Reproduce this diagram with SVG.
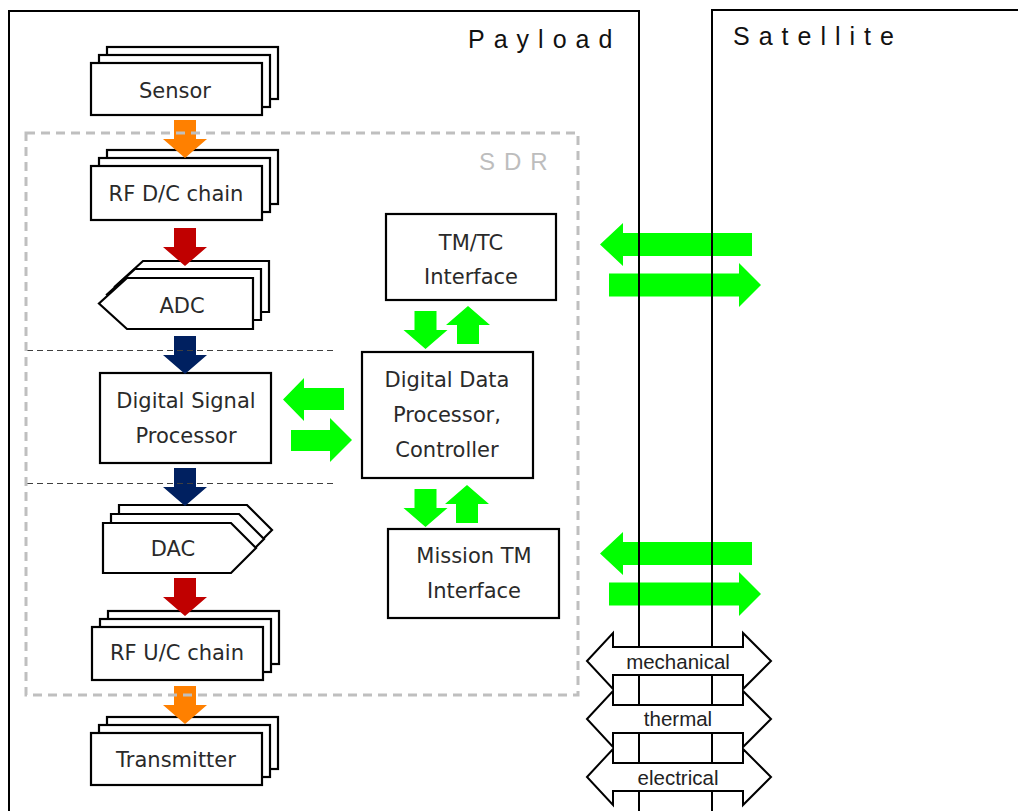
<svg xmlns="http://www.w3.org/2000/svg" width="1018" height="811" viewBox="0 0 1018 811">
  <defs>
    <style>
      .box { fill: #fff; stroke: #000; stroke-width: 2.2; }
      .lbl { font-family: "DejaVu Sans", "Liberation Sans", sans-serif; font-size: 21px; fill: #2a2a2a; text-anchor: middle; }
      .frame { fill: none; stroke: #000; stroke-width: 2; }
      .title { font-family: "Liberation Sans", Arial, sans-serif; font-size: 25px; fill: #111; letter-spacing: 9px; }
      .sdr { fill: none; stroke: #bfbfbf; stroke-width: 3; stroke-dasharray: 9 6; }
      .sdrlbl { font-family: "Liberation Sans", Arial, sans-serif; font-size: 24px; fill: #bdbdbd; letter-spacing: 9px; }
      .sep { stroke: #404040; stroke-width: 1.2; stroke-dasharray: 6 4; fill: none; }
      .g { fill: #00ff00; }
      .iface { fill: #fff; stroke: #000; stroke-width: 2; }
      .ilbl { font-family: "Liberation Sans", Arial, sans-serif; font-size: 20.5px; fill: #222; text-anchor: middle; }
    </style>
    <!-- block arrow pointing down, origin at top centre of shaft -->
    <path id="down" d="M-11,0 H11 V19 H22 L0,38 L-22,19 H-11 Z"/>
  </defs>

  <!-- outer frames -->
  <g id="payload">
    <rect class="frame" x="9" y="11" width="630" height="830"/>
    <text class="title" x="468" y="48">Payload</text>
  </g>
  <g id="satellite">
    <rect class="frame" x="712" y="10" width="400" height="900"/>
    <text class="title" x="733" y="45">Satellite</text>
  </g>

  <!-- signal chain nodes -->
  <g id="sensor">
    <rect class="box" x="107" y="47" width="171" height="52"/>
    <rect class="box" x="99" y="55" width="171" height="52"/>
    <rect class="box" x="91" y="63" width="171" height="52"/>
    <text class="lbl" x="175" y="98">Sensor</text>
  </g>
  <g id="rf-dc">
    <rect class="box" x="107" y="150" width="171" height="54"/>
    <rect class="box" x="99" y="158" width="171" height="54"/>
    <rect class="box" x="91" y="166" width="171" height="54"/>
    <text class="lbl" x="176" y="201">RF D/C chain</text>
  </g>
  <g id="adc">
    <polygon class="box" points="143,261 269,261 269,312 143,312 115,286.5"/>
    <polygon class="box" points="135,269 261,269 261,320 135,320 107,294.5"/>
    <polygon class="box" points="127,278 253,278 253,329 127,329 99,303.5"/>
    <text class="lbl" x="182" y="313">ADC</text>
  </g>
  <g id="dsp">
    <rect class="box" x="100" y="373" width="171" height="90"/>
    <text class="lbl" x="186" y="408">Digital Signal</text>
    <text class="lbl" x="186" y="443">Processor</text>
  </g>
  <g id="dac">
    <polygon class="box" points="119,505 247,505 272,530 247,555 119,555"/>
    <polygon class="box" points="111,514 239,514 264,539 239,564 111,564"/>
    <polygon class="box" points="103,523 231,523 256,548 231,573 103,573"/>
    <text class="lbl" x="173" y="556">DAC</text>
  </g>
  <g id="rf-uc">
    <rect class="box" x="108" y="611" width="171" height="53"/>
    <rect class="box" x="100" y="619" width="171" height="53"/>
    <rect class="box" x="92" y="627" width="171" height="53"/>
    <text class="lbl" x="177" y="660">RF U/C chain</text>
  </g>
  <g id="transmitter">
    <rect class="box" x="107" y="717" width="171" height="52"/>
    <rect class="box" x="99" y="725" width="171" height="52"/>
    <rect class="box" x="91" y="733" width="171" height="52"/>
    <text class="lbl" x="176" y="767">Transmitter</text>
  </g>

  <!-- control side nodes -->
  <g id="tmtc">
    <rect class="box" x="386" y="214" width="170" height="86"/>
    <text class="lbl" x="471" y="250">TM/TC</text>
    <text class="lbl" x="471" y="284">Interface</text>
  </g>
  <g id="ddp">
    <rect class="box" x="362" y="352" width="171" height="126"/>
    <text class="lbl" x="447" y="387">Digital Data</text>
    <text class="lbl" x="447" y="422">Processor,</text>
    <text class="lbl" x="447" y="457">Controller</text>
  </g>
  <g id="mission-tm">
    <rect class="box" x="388" y="529" width="171" height="89"/>
    <text class="lbl" x="474" y="563">Mission TM</text>
    <text class="lbl" x="474" y="598">Interface</text>
  </g>

  <!-- connectors -->
  <g id="connectors">
    <use href="#down" x="185" y="120" fill="#ff8000"/>
    <use href="#down" x="185" y="228" fill="#c00000"/>
    <use href="#down" x="185" y="336" fill="#002060"/>
    <use href="#down" x="185" y="468" fill="#002060"/>
    <use href="#down" x="185" y="578" fill="#c00000"/>
    <use href="#down" x="185" y="686" fill="#ff8000"/>

    <!-- TM/TC <-> DDP -->
    <use href="#down" class="g" x="425.5" y="311"/>
    <use href="#down" class="g" transform="translate(468,344) rotate(180)"/>
    <!-- DDP <-> Mission TM -->
    <use href="#down" class="g" x="425.5" y="489"/>
    <use href="#down" class="g" transform="translate(467,523) rotate(180)"/>
    <!-- DDP <-> DSP -->
    <polygon class="g" points="283,399.5 304,378 304,388 344,388 344,410 304,410 304,421"/>
    <polygon class="g" points="291,430 330,430 330,418 352,440 330,462 330,451 291,451"/>

    <!-- Payload <-> Satellite, TM/TC -->
    <polygon class="g" points="600,244.5 623,223 623,233 752,233 752,256 623,256 623,266"/>
    <polygon class="g" points="609,273.5 739,273.5 739,263 761,285 739,307 739,296.5 609,296.5"/>
    <!-- Payload <-> Satellite, mission TM -->
    <polygon class="g" points="600,553.5 623,532 623,542 752,542 752,565 623,565 623,575"/>
    <polygon class="g" points="609,582.5 739,582.5 739,572 761,594 739,616 739,605.5 609,605.5"/>
  </g>

  <!-- interface boundary lines drawn over the arrows -->
  <g id="boundary">
    <line x1="639" y1="11" x2="639" y2="811" stroke="#000" stroke-width="2"/>
    <line x1="712" y1="10" x2="712" y2="811" stroke="#000" stroke-width="2"/>
  </g>

  <!-- SDR grouping -->
  <g id="sdr">
    <line class="sep" x1="27" y1="350.5" x2="335" y2="350.5"/>
    <line class="sep" x1="27" y1="483.5" x2="335" y2="483.5"/>
    <rect class="sdr" x="26" y="133" width="552" height="562"/>
    <text class="sdrlbl" x="479" y="170">SDR</text>
  </g>

  <!-- physical interfaces -->
  <g id="mechanical">
    <polygon class="iface" points="587,661 613,633 613,647 743,647 743,633 771,661 743,689 743,675 613,675 613,689"/>
    <text class="ilbl" x="678" y="669">mechanical</text>
  </g>
  <g id="thermal">
    <polygon class="iface" points="587,719 613,691 613,705 743,705 743,691 771,719 743,747 743,733 613,733 613,747"/>
    <text class="ilbl" x="678" y="726">thermal</text>
  </g>
  <g id="electrical">
    <polygon class="iface" points="587,777 613,749 613,763 743,763 743,749 771,777 743,805 743,791 613,791 613,805"/>
    <text class="ilbl" x="678" y="785">electrical</text>
  </g>
</svg>
